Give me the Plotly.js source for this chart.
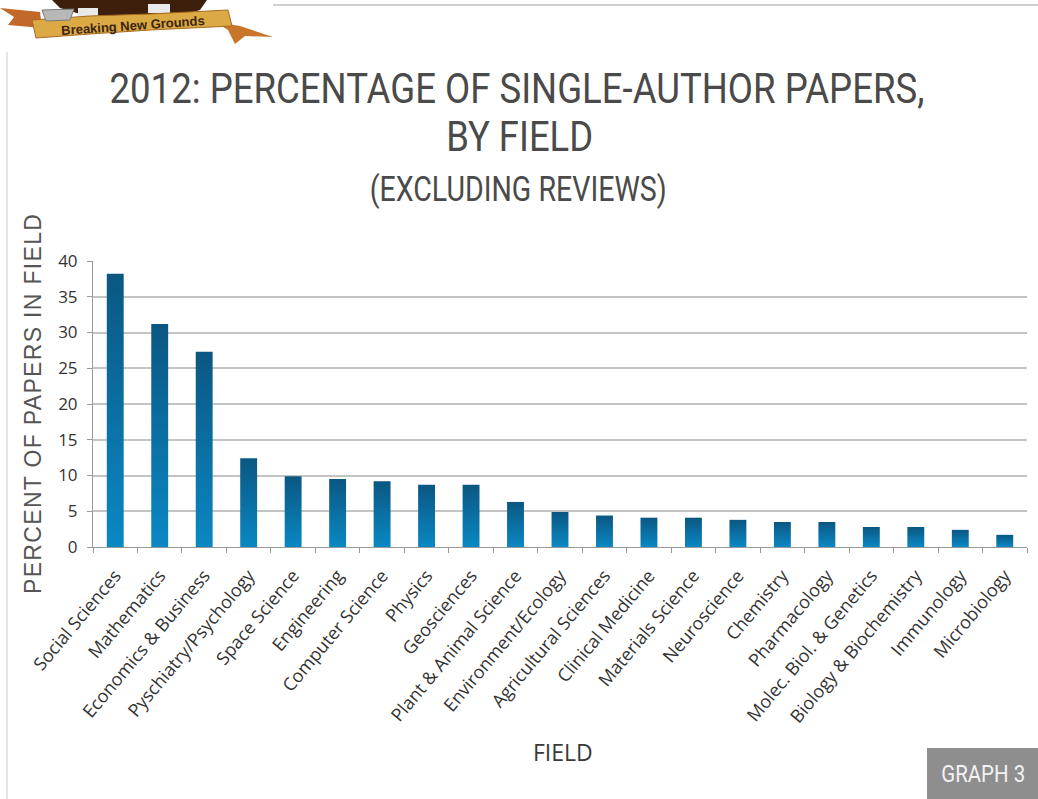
<!DOCTYPE html>
<html>
<head>
<meta charset="utf-8">
<script src="https://cdn.plot.ly/plotly-3.0.1.min.js"></script>
<style>
  html, body { margin: 0; padding: 0; background: #ffffff; }
  #chart { width: 1038px; height: 799px; }
</style>
</head>
<body>
<div id="chart"></div>
<script>
// Fields, ordered by share of single-author papers (2012)
const fields = [
  "Social Sciences", "Mathematics", "Economics & Business", "Pyschiatry/Psychology",
  "Space Science", "Engineering", "Computer Science", "Physics", "Geosciences",
  "Plant & Animal Science", "Environment/Ecology", "Agricultural Sciences",
  "Clinical Medicine", "Materials Science", "Neuroscience", "Chemistry",
  "Pharmacology", "Molec. Biol. & Genetics", "Biology & Biochemistry",
  "Immunology", "Microbiology"
];

// Percent of papers in each field written by a single author
const percentSingleAuthor = [
  38.2, 31.2, 27.3, 12.4, 9.9, 9.5, 9.2, 8.7, 8.7, 6.3, 4.9,
  4.4, 4.1, 4.1, 3.8, 3.5, 3.5, 2.8, 2.8, 2.4, 1.7
];

const yTicks = [0, 5, 10, 15, 20, 25, 30, 35, 40];

// Figure geometry (pixels)
const W = 1038, H = 799;
const M = { l: 93, r: 11, t: 261, b: 252 };
const plotW = W - M.l - M.r, plotH = H - M.t - M.b;
// convert page pixels to paper coordinates for decorations
const px = x => (x - M.l) / plotW;
const py = y => (H - M.b - y) / plotH;

const titleFont = "Roboto, 'Liberation Sans', sans-serif";
const bodyFont = "'Open Sans', 'Noto Sans', sans-serif";

const trace = {
  type: "bar",
  x: fields,
  y: percentSingleAuthor,
  marker: { color: "#0a72a6", line: { width: 0 } },
  hoverinfo: "x+y"
};

// Ribbon/gear emblem in the top-left corner
function pathFrom(points) {
  return "M" + points.map(p => px(p[0]) + "," + py(p[1])).join(" L") + " Z";
}
const paperShape = (path, fill, line) => ({
  type: "path", xref: "paper", yref: "paper", path: pathFrom(path),
  fillcolor: fill, line: line || { width: 0 }
});

const shapes = [
  paperShape([[52,0],[207,0],[200,10],[180,16],[150,18],[110,18],[80,14],[60,8]], "#3d200c"),
  paperShape([[78,8],[98,8],[98,17],[78,17]], "#e9e9e9"),
  paperShape([[148,4],[170,4],[170,13],[148,13]], "#e9e9e9"),
  paperShape([[0,8],[40,12],[42,28],[8,25],[14,17]], "#c3682b"),
  paperShape([[215,22],[240,26],[273,37],[245,36],[235,44],[228,30]], "#c8772a"),
  paperShape([[32,20],[90,16],[150,14],[228,10],[232,26],[150,30],[90,34],[36,38]], "#dcaa45", { color: "#a86a20", width: 1 }),
  paperShape([[42,10],[74,9],[70,20],[46,21]], "#b8b8b8", { color: "#7a7a7a", width: 1 }),
  // thin rule along the top and the faint frame on the left
  { type: "line", xref: "paper", yref: "paper", x0: px(273), x1: px(1038), y0: py(5), y1: py(5), line: { color: "#cfcfcf", width: 2 } },
  { type: "line", xref: "paper", yref: "paper", x0: px(7), x1: px(7), y0: py(52), y1: py(799), line: { color: "#e3e3e3", width: 2 } },
  // label box in the lower-right corner
  { type: "rect", xref: "paper", yref: "paper", x0: px(927), x1: px(1040), y0: py(748), y1: py(801), fillcolor: "#8e8e8e", line: { width: 0 } }
];

const note = (x, y, text, font, extra) => Object.assign({
  xref: "paper", yref: "paper", x: px(x), y: py(y), xanchor: "center", yanchor: "middle",
  showarrow: false, text: text, font: font
}, extra || {});

const annotations = [
  note(517, 88, "2012: PERCENTAGE OF SINGLE-AUTHOR PAPERS,", { family: titleFont, size: 42, color: "#4a4a4a" }),
  note(519, 136, "BY FIELD", { family: titleFont, size: 42, color: "#4a4a4a" }),
  note(518, 189, "(EXCLUDING REVIEWS)", { family: titleFont, size: 36, color: "#4a4a4a" }),
  note(563, 752, "FIELD", { family: bodyFont, size: 23, color: "#3a3a3a" }),
  note(983, 774, "GRAPH 3", { family: titleFont, size: 23, color: "#f2f2f2" }),
  note(133, 25, "<b>Breaking New Grounds</b>", { family: "'Liberation Sans', Arial, sans-serif", size: 13, color: "#3b2410" }, { textangle: -4 })
];
// target drawn widths for the narrow display lettering (in order of the notes above)
const noteWidths = [815, 147, 297, null, 84, null];

const layout = {
  width: W, height: H,
  margin: M,
  paper_bgcolor: "#ffffff",
  plot_bgcolor: "#ffffff",
  showlegend: false,
  bargap: 0.62,
  xaxis: {
    type: "category",
    tickangle: -50,
    tickson: "boundaries",
    ticks: "outside", ticklen: 5, tickcolor: "#9a9a9a",
    ticklabelstandoff: 10,
    showline: true, linecolor: "#9a9a9a", linewidth: 1,
    showgrid: false,
    tickfont: { family: bodyFont, size: 18, color: "#333333" }
  },
  yaxis: {
    range: [0, 40],
    tickvals: yTicks,
    ticks: "outside", ticklen: 5, tickcolor: "#9a9a9a",
    ticklabelstandoff: 6,
    showline: true, linecolor: "#9a9a9a", linewidth: 1,
    showgrid: true, gridcolor: "#c4c4c4", gridwidth: 2,
    zeroline: false,
    tickfont: { family: bodyFont, size: 17, color: "#333333" },
    title: { text: "PERCENT OF PAPERS IN FIELD", standoff: 10,
             font: { family: "'Liberation Sans', Arial, sans-serif", size: 23, color: "#555555" } }
  },
  shapes: shapes,
  annotations: annotations
};

Plotly.newPlot("chart", [trace], layout, { displayModeBar: false, staticPlot: true }).then(gd => {
  // vertical gradient on the bars: deep blue at the top, brighter toward the base
  const svg = gd.querySelector(".main-svg");
  const ns = "http://www.w3.org/2000/svg";
  let defs = svg.querySelector("defs");
  if (!defs) { defs = document.createElementNS(ns, "defs"); svg.insertBefore(defs, svg.firstChild); }
  const grad = document.createElementNS(ns, "linearGradient");
  grad.setAttribute("id", "barGrad");
  grad.setAttribute("x1", "0"); grad.setAttribute("y1", "0");
  grad.setAttribute("x2", "0"); grad.setAttribute("y2", "1");
  [["0%", "#0b5782"], ["100%", "#0a88c3"]].forEach(([o, c]) => {
    const s = document.createElementNS(ns, "stop");
    s.setAttribute("offset", o); s.setAttribute("stop-color", c);
    grad.appendChild(s);
  });
  defs.appendChild(grad);
  gd.querySelectorAll(".bars .point path").forEach(p => { p.style.fill = "url(#barGrad)"; });

  // condensed display lettering: squeeze horizontally about each text's centre
  gd.querySelectorAll(".annotation-text").forEach((t, i) => {
    const target = noteWidths[i];
    if (!target) return;
    const natural = t.getComputedTextLength();
    if (!natural) return;
    const s = target / natural;
    const cx = parseFloat(t.getAttribute("x")) || 0;
    t.setAttribute("transform", `translate(${cx},0) scale(${s},1) translate(${-cx},0)`);
    const box = t.parentNode.querySelector(".annotation-bg, rect");
    if (box && box !== t) {
      const bw = parseFloat(box.getAttribute("width")) || 0;
      const bx = parseFloat(box.getAttribute("x")) || 0;
      const nw = bw * s;
      box.setAttribute("x", bx + (bw - nw) / 2);
      box.setAttribute("width", nw);
    }
  });
  // letter-spaced axis title
  const yt = gd.querySelector(".ytitle");
  if (yt) { yt.setAttribute("textLength", 380); yt.setAttribute("lengthAdjust", "spacing"); }
});
</script>
</body>
</html>
